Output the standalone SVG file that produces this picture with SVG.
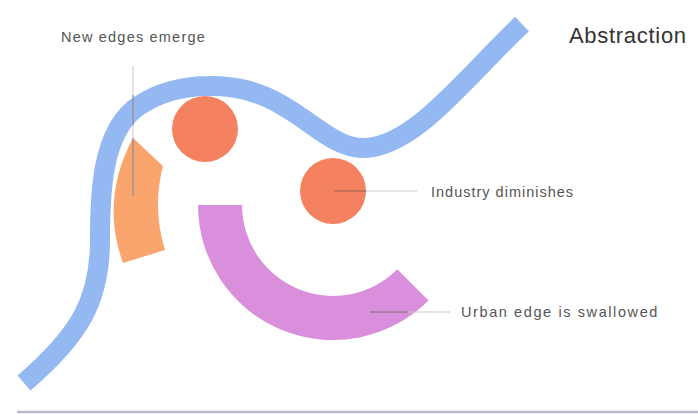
<svg xmlns="http://www.w3.org/2000/svg" width="698" height="414" viewBox="0 0 698 414">
<style>
.lbl{font-family:"Liberation Sans",Arial,sans-serif;font-size:14.5px;fill:#555}
.title{font-family:"Liberation Sans",Arial,sans-serif;font-size:22px;fill:#333;letter-spacing:0.7px}
.lead{stroke:#c8c8c8;stroke-width:1;fill:none}
.leadd{stroke:#6a5a5a;stroke-width:1;fill:none;opacity:0.7}
</style>
<rect width="698" height="414" fill="#ffffff"/>
<g id="edge-line">
<path d="M 24 383 C 80 335 100 300 100 240 C 100 200 100 130 140 105 C 160 92 185 86 210 86 C 290 84 320 150 365 148 C 415 146 465 78 522 24" fill="none" stroke="#93b8f2" stroke-width="20" stroke-linecap="butt"/>
</g>
<g id="new-edges">
<path d="M 133 138 L 163 166 Q 152 208 165 250 L 123 263 Q 100 200 133 138 Z" fill="#fba56e"/>
</g>
<g id="industry-1">
<circle cx="205" cy="129" r="33" fill="#f4815f"/>
</g>
<g id="industry-2">
<circle cx="333" cy="191" r="33" fill="#f4815f"/>
</g>
<g id="urban-edge">
<path d="M 198 205 A 135 135 0 0 0 428.5 300.5 L 397.3 269.3 A 91 91 0 0 1 242 205 Z" fill="#da8fdc"/>
</g>
<g id="connectors">
<line class="lead" x1="133" y1="66" x2="133" y2="196"/>
<line class="leadd" x1="133" y1="95" x2="133" y2="125"/>
<line class="leadd" x1="133" y1="138" x2="133" y2="196"/>
<line class="leadd" x1="334" y1="191" x2="366" y2="191"/>
<line class="lead" x1="366" y1="191" x2="417" y2="191"/>
<line class="leadd" x1="370" y1="312" x2="408" y2="312"/>
<line class="lead" x1="408" y1="312" x2="450" y2="312"/>
</g>
<g id="labels">
<text class="lbl" x="61" y="42" style="letter-spacing:1.2px">New edges emerge</text>
<text class="lbl" x="431" y="197" style="letter-spacing:1px">Industry diminishes</text>
<text class="lbl" x="461" y="317" style="letter-spacing:1.6px">Urban edge is swallowed</text>
<text class="title" x="569" y="43">Abstraction</text>
</g>
<line x1="17" y1="412" x2="698" y2="412" stroke="#b9bcc6" stroke-width="2.5"/>
</svg>
